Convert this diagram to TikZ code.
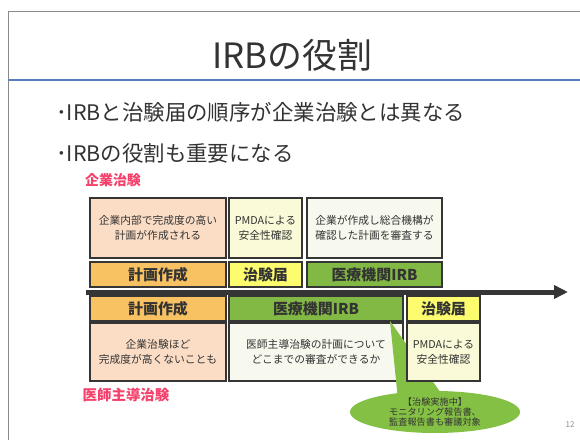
\documentclass[tikz,border=0pt]{standalone}
\usepackage{fontspec}
\setmainfont{Noto Sans CJK JP}
\usetikzlibrary{arrows.meta,shapes.geometric}
\definecolor{frame}{HTML}{8A8A8A}
\definecolor{rule}{HTML}{5A7CC0}
\definecolor{boxline}{HTML}{353535}
\definecolor{txt}{HTML}{333333}
\definecolor{peach}{HTML}{FBDDC6}
\definecolor{orangel}{HTML}{F8C262}
\definecolor{yellowl}{HTML}{FCFC6E}
\definecolor{greenl}{HTML}{82B844}
\definecolor{paley}{HTML}{FAFAD8}
\definecolor{offw}{HTML}{F7F9EE}
\definecolor{pink}{HTML}{F4406A}
\definecolor{callg}{HTML}{84C044}
\tikzset{
  desc/.style={draw=boxline, line width=1.4bp, align=center, text=txt,
    font=\fontsize{10.8}{15}\selectfont, inner sep=0pt},
  lab/.style={draw=boxline, line width=1.4bp, text=txt, inner sep=0pt,
    font=\fontsize{15}{18}\selectfont\bfseries, minimum height=25bp},
  redlab/.style={text=pink, font=\bfseries, inner sep=0pt},
  bullet/.style={anchor=west, text=txt, font=\fontsize{21.5}{25}\selectfont, inner sep=0pt},
}
\begin{document}
\begin{tikzpicture}[x=1bp,y=-1bp]
\useasboundingbox (0,0) rectangle (580,440);
\fill[white] (0,0) rectangle (580,440);
% slide frame
\draw[frame, line width=1bp] (8,440) -- (8,12) -- (580,12);
\draw[rule, line width=2.2bp] (8,80) -- (580,80);
% title & bullets
\node[text=txt, font=\fontsize{35}{40}\selectfont, inner sep=0pt] (title) at (292,55) {IRBの役割};
\node[bullet] (b1) at (56,112) {･IRBと治験届の順序が企業治験とは異なる};
\node[bullet] (b2) at (56,153) {･IRBの役割も重要になる};
% red labels
\node[redlab, font=\fontsize{14}{16}\selectfont\bfseries] (corp) at (113,180) {企業治験};
\node[redlab, font=\fontsize{14.5}{16}\selectfont\bfseries] (inv) at (126,395) {医師主導治験};
% top description row
\node[desc, fill=peach, minimum width=136bp, minimum height=60bp] (d1) at (158,228) {企業内部で完成度の高い\\計画が作成される};
\node[desc, fill=paley, minimum width=73bp, minimum height=60bp] (d2) at (265.5,228) {PMDAによる\\安全性確認};
\node[desc, fill=offw, minimum width=135bp, minimum height=60bp] (d3) at (374.5,228) {企業が作成し総合機構が\\確認した計画を審査する};
% top label row
\node[lab, fill=orangel, minimum width=136bp] (l1) at (158,274.5) {計画作成};
\node[lab, fill=yellowl, minimum width=73bp] (l2) at (265.5,274.5) {治験届};
\node[lab, fill=greenl, minimum width=135bp] (l3) at (374.5,274.5) {医療機関IRB};
% time arrow
\coordinate (arrS) at (86,292);
\coordinate (arrE) at (568,292);
\draw[boxline, line width=5bp, -{Triangle[length=14bp,width=13bp]}] (arrS) -- (arrE);
% bottom label row
\node[lab, fill=orangel, minimum width=136bp] (m1) at (158,308.5) {計画作成};
\node[lab, fill=greenl, minimum width=174bp] (m2) at (316,308.5) {医療機関IRB};
\node[lab, fill=yellowl, minimum width=73bp] (m3) at (443.5,308.5) {治験届};
% bottom description row
\node[desc, fill=peach, minimum width=136bp, minimum height=58bp] (e1) at (158,352) {企業治験ほど\\完成度が高くないことも};
\node[desc, fill=offw, minimum width=174bp, minimum height=58bp] (e2) at (316,352) {医師主導治験の計画について\\どこまでの審査ができるか};
% callout: pointer first, then ellipse with text
\coordinate (callc) at (435,412);
\coordinate (tip) at (390,321);
\fill[callg] (tip) -- ([shift={(-37,-12)}]callc) -- ([shift={(8,-16)}]callc) -- cycle;
\node[ellipse, fill=callg, minimum width=170bp, minimum height=42bp, inner sep=0pt,
  align=center, text=txt, font=\fontsize{9.2}{10}\selectfont] (call) at (callc)
  {【治験実施中】\\モニタリング報告書、\\監査報告書も審議対象};
% third box drawn over the pointer
\node[desc, fill=paley, minimum width=73bp, minimum height=58bp] (e3) at (443.5,352) {PMDAによる\\安全性確認};
% page number
\node[text=frame, font=\fontsize{8}{9}\selectfont, inner sep=0pt] (pg) at (570,425) {12};
\end{tikzpicture}
\end{document}
